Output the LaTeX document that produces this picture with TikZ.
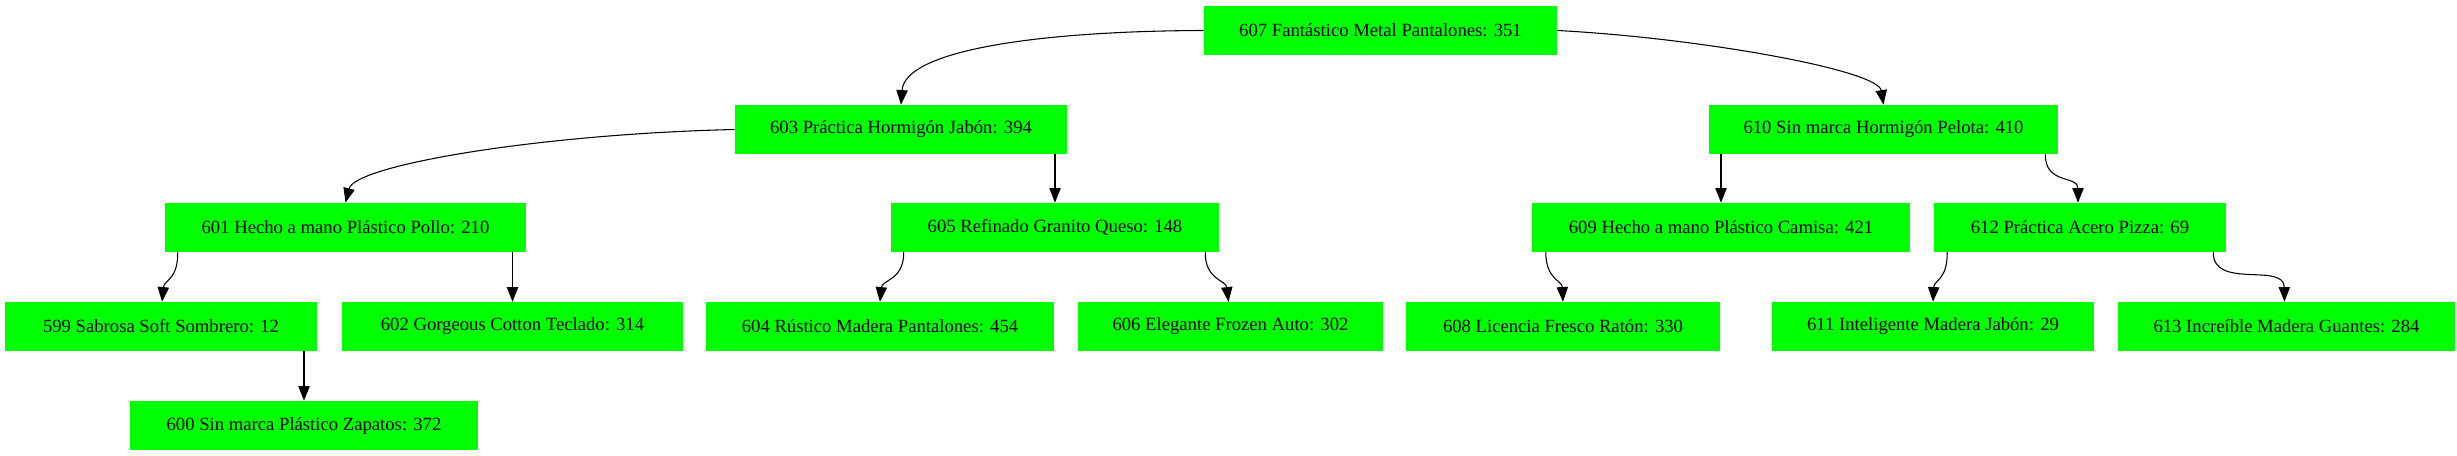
\documentclass[tikz,border=0pt]{standalone}
\usepackage{fontspec}
\setmainfont{Liberation Serif}
\usetikzlibrary{arrows.meta,calc}
\begin{document}
\begin{tikzpicture}[x=0.75pt,y=-0.75pt,
  box/.style={fill={rgb,255:red,0;green,255;blue,0}, draw=none, minimum height=36.75pt, inner sep=0pt,
    font=\fontsize{14pt}{16pt}\selectfont},
  bw/.style={minimum width=#1*0.75pt},
  edge/.style={line width=0.8pt, -{Triangle[length=11pt,width=8.5pt]}}]
\useasboundingbox (0,0) rectangle (2457,456);
% row 0
\node[box,bw=353] (n607) at (1380.5,30.5) {607 Fantástico Metal Pantalones: 351};
% row 1
\node[box,bw=332] (n603) at (901,129.5) {603 Práctica Hormigón Jabón: 394};
\node[box,bw=349] (n610) at (1883.5,129.5) {610 Sin marca Hormigón Pelota: 410};
% row 2
\node[box,bw=361] (n601) at (345.5,227.5) {601 Hecho a mano Plástico Pollo: 210};
\node[box,bw=328] (n605) at (1055,227.5) {605 Refinado Granito Queso: 148};
\node[box,bw=378] (n609) at (1721,227.5) {609 Hecho a mano Plástico Camisa: 421};
\node[box,bw=292] (n612) at (2080,227.5) {612 Práctica Acero Pizza: 69};
% row 3
\node[box,bw=312] (n599) at (161,326.5) {599 Sabrosa Soft Sombrero: 12};
\node[box,bw=341] (n602) at (512.5,326.5) {602 Gorgeous Cotton Teclado: 314};
\node[box,bw=348] (n604) at (880,326.5) {604 Rústico Madera Pantalones: 454};
\node[box,bw=305] (n606) at (1230.5,326.5) {606 Elegante Frozen Auto: 302};
\node[box,bw=314] (n608) at (1563,326.5) {608 Licencia Fresco Ratón: 330};
\node[box,bw=322] (n611) at (1933,326.5) {611 Inteligente Madera Jabón: 29};
\node[box,bw=337] (n613) at (2286.5,326.5) {613 Increíble Madera Guantes: 284};
% row 4
\node[box,bw=348] (n600) at (304,425.5) {600 Sin marca Plástico Zapatos: 372};
% edges
\draw[edge] (n607.west) .. controls (1040,31) and (905,50) .. (n603.north);
\draw[edge] (n607.east) .. controls (1700,38) and (1878,70) .. (n610.north);
\draw[edge] (n603.west) .. controls (540,134) and (355,165) .. (n601.north);
\draw[edge] (n603.south -| n605.north) -- (n605.north);
\draw[edge] (n610.south -| n609.north) -- (n609.north);
\draw[edge] ($(n610.south east)+(-13,0)$) .. controls (2045,185) and (2078,175) .. ($(n612.north)+(-2,0)$);
\draw[edge] ($(n601.south west)+(13,0)$) .. controls (178,280) and (164,280) .. ($(n599.north)+(1,0)$);
\draw[edge] (n601.south -| n602.north) -- (n602.north);
\draw[edge] ($(n605.south west)+(13,0)$) .. controls (904,280) and (882,280) .. (n604.north);
\draw[edge] ($(n605.south east)+(-14,0)$) .. controls (1205,280) and (1226,280) .. ($(n606.north)+(-2,0)$);
\draw[edge] ($(n609.south west)+(14,0)$) .. controls (1546,280) and (1562,280) .. (n608.north);
\draw[edge] ($(n612.south west)+(13.5,0)$) .. controls (1947.5,280) and (1934,280) .. (n611.north);
\draw[edge] ($(n612.south east)+(-13,0)$) .. controls (2213,290) and (2284,262) .. ($(n613.north)+(-2,0)$);
\draw[edge] (n599.south -| n600.north) -- (n600.north);
\end{tikzpicture}
\end{document}
